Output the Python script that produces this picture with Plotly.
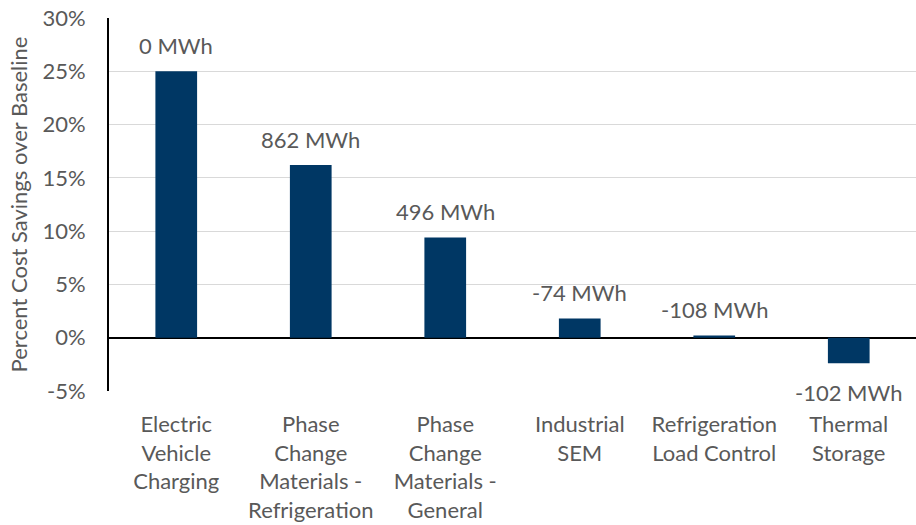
import plotly.graph_objects as go

# Measures and their percent cost savings over baseline
categories = [
    "Electric<br>Vehicle<br>Charging",
    "Phase<br>Change<br>Materials -<br>Refrigeration",
    "Phase<br>Change<br>Materials -<br>General",
    "Industrial<br>SEM",
    "Refrigeration<br>Load Control",
    "Thermal<br>Storage",
]
savings_pct = [25.0, 16.2, 9.4, 1.8, 0.2, -2.4]
energy_labels = ["0 MWh", "862 MWh", "496 MWh", "-74 MWh", "-108 MWh", "-102 MWh"]

y_ticks = [-5, 0, 5, 10, 15, 20, 25, 30]
y_tick_text = [f"{v}%" for v in y_ticks]

FONT = "Lato"
TEXT_GRAY = "#595959"
BAR_COLOR = "#003764"

fig = go.Figure()
fig.add_trace(go.Bar(
    x=categories,
    y=savings_pct,
    marker=dict(color=BAR_COLOR, line=dict(width=0)),
    hoverinfo="skip",
))

# Energy labels sit just outside the end of each bar
for cat, val, lab in zip(categories, savings_pct, energy_labels):
    fig.add_annotation(
        x=cat, y=val, text=lab, showarrow=False,
        yshift=26 if val >= 0 else -29,
        font=dict(family=FONT, size=22, color=TEXT_GRAY),
    )

fig.update_layout(
    width=916, height=525,
    margin=dict(l=109, r=0, t=18, b=134),
    paper_bgcolor="white", plot_bgcolor="white",
    bargap=0.69,
    showlegend=False,
    font=dict(family=FONT, size=22, color=TEXT_GRAY),
)
fig.update_xaxes(
    type="category",
    range=[-0.5, 5.5],
    showgrid=False, showline=False, ticks="",
    ticklabelstandoff=18,
    tickfont=dict(family=FONT, size=22, color=TEXT_GRAY),
)
fig.update_yaxes(
    range=[-5, 30],
    tickvals=y_ticks, ticktext=y_tick_text,
    showgrid=True, gridcolor="#d9d9d9", gridwidth=1,
    zeroline=True, zerolinecolor="black", zerolinewidth=2,
    showline=True, linecolor="black", linewidth=2,
    ticks="", ticklabelstandoff=17,
    tickfont=dict(family=FONT, size=22, color=TEXT_GRAY),
    title=dict(text="Percent Cost Savings over Baseline", standoff=9,
               font=dict(family=FONT, size=22, color=TEXT_GRAY)),
)

fig.write_html("out.html")
